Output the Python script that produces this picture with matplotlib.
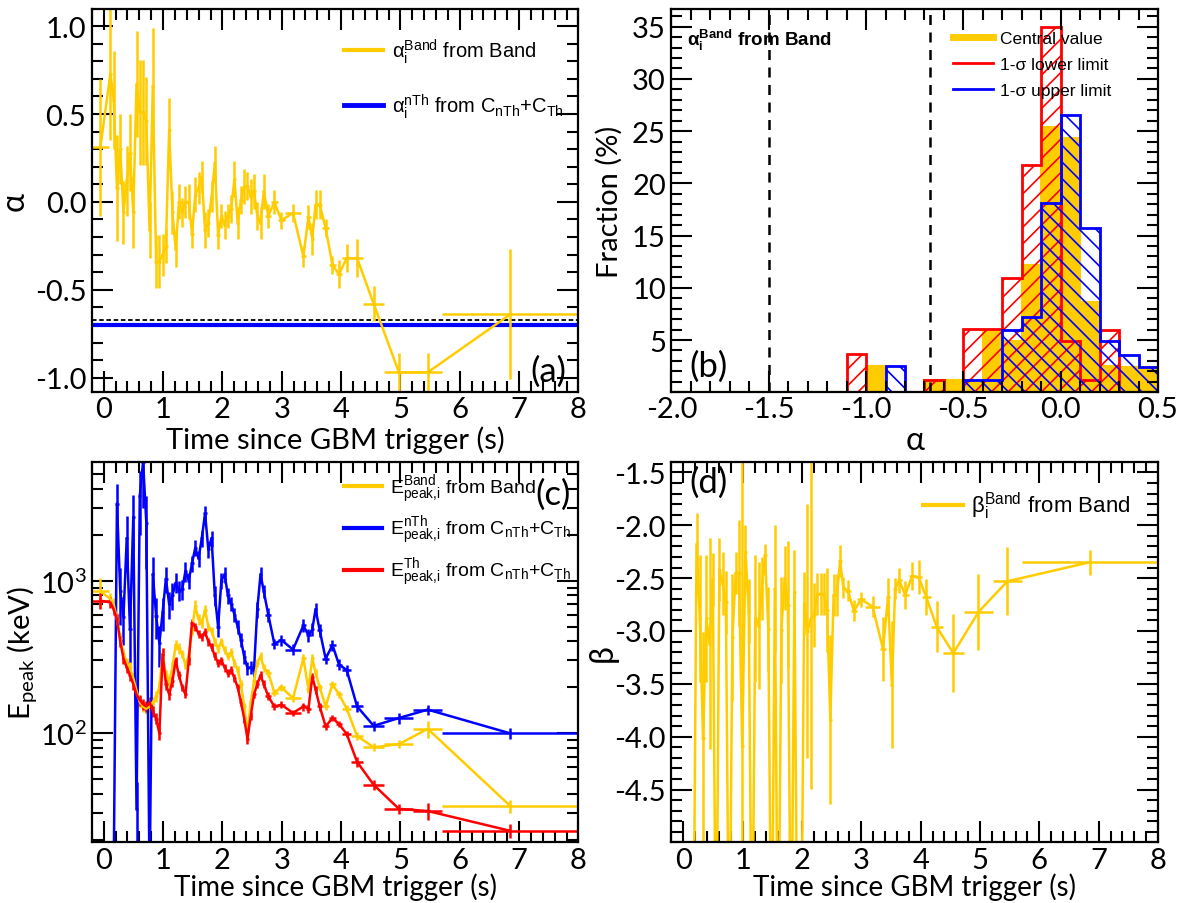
import numpy as np
import matplotlib
matplotlib.use("Agg")
import matplotlib.pyplot as plt
from matplotlib.ticker import MultipleLocator, FixedLocator, NullFormatter, FormatStrFormatter

plt.rcParams['font.family'] = ['Lato', 'DejaVu Sans']
plt.rcParams['axes.unicode_minus'] = False
plt.rcParams['hatch.linewidth'] = 1.2

NARROW = ['Liberation Sans', 'DejaVu Sans']
ORANGE = '#ffcc00'
nan = np.nan

# time bins (s)
t_edges = [-0.2, 0.085, 0.14, 0.195, 0.25, 0.305, 0.36, 0.415, 0.47, 0.525, 0.58,
           0.635, 0.69, 0.745, 0.80, 0.855, 0.91, 0.965, 1.02, 1.075, 1.13,
           1.185, 1.24, 1.295, 1.35, 1.405, 1.46, 1.515, 1.57, 1.625, 1.68,
           1.735, 1.79, 1.845, 1.90, 1.955, 2.01, 2.065, 2.12, 2.175, 2.23,
           2.285, 2.34, 2.395, 2.45, 2.505, 2.56, 2.615, 2.67, 2.725,
           2.82, 2.93, 3.06, 3.32, 3.41, 3.49, 3.54, 3.60, 3.68, 3.80,
           3.91, 4.02, 4.17, 4.37, 4.73, 5.22, 5.70, 8.0]

# low-energy index from Band fits
alpha_band = [0.31,
              0.73, 0.58, 0.08, 0.30, -0.06, 0.12, 0.28, -0.06, 0.67, 0.51,
              0.51, 0.46, -0.16, 0.66, -0.34, -0.34, -0.30, -0.25, 0.41, -0.06,
              -0.27, 0.00, -0.06, 0.00, 0.00, -0.18, 0.04, 0.08, 0.14, -0.16,
              -0.12, 0.03, 0.22, -0.19, -0.08, -0.13, -0.08, -0.04, 0.13, -0.12,
              0.01, 0.09, 0.09, 0.03, 0.06, -0.08, -0.12, 0.06,
              -0.08, 0.00, -0.105, -0.063, -0.31, -0.085, -0.21, -0.015, -0.015, -0.15,
              -0.36, -0.41, -0.32, -0.32, -0.58, -0.97, -0.97, -0.64]
alpha_err = [0.39,
             0.38, 0.28, 0.30, 0.20, 0.18, 0.20, 0.22, 0.20, 0.30, 0.30,
             0.30, 0.25, 0.16, 0.33, 0.15, 0.15, 0.12, 0.10, 0.18, 0.12,
             0.10, 0.10, 0.08, 0.09, 0.10, 0.08, 0.10, 0.09, 0.09, 0.10,
             0.08, 0.09, 0.10, 0.08, 0.07, 0.08, 0.07, 0.08, 0.10, 0.09,
             0.08, 0.10, 0.08, 0.10, 0.10, 0.08, 0.09, 0.10,
             0.07, 0.07, 0.05, 0.05, 0.06, 0.07, 0.09, 0.08, 0.08, 0.05,
             0.05, 0.08, 0.08, 0.11, 0.10, 0.11, 0.11, 0.37]
alpha_nth = -0.70
line_of_death = -0.67

# peak energies (keV) and fractional errors
epeak_band = [850,
              760, 700, 560, 420, 330, 290, 270, 230, 190, 160,
              150, 145, 150, 160, 175, 200, 330, 240, 220, 270,
              380, 360, 330, 280, 320, 480, 680, 560, 530, 640,
              500, 470, 400, 360, 400, 350, 320, 340, 290, 260,
              210, 150, 100, 160, 220, 290, 320, 270,
              250, 185, 200, 170, 310, 195, 310, 250, 200, 150,
              210, 180, 145, 96, 81, 85, 107, 33.5]
epeak_band_ferr = [0.22,
                   0.10, 0.10, 0.10, 0.08, 0.08, 0.08, 0.08, 0.08, 0.08, 0.08,
                   0.08, 0.08, 0.08, 0.08, 0.08, 0.10, 0.10, 0.08, 0.08, 0.08,
                   0.08, 0.08, 0.06, 0.06, 0.06, 0.08, 0.10, 0.08, 0.08, 0.08,
                   0.06, 0.06, 0.06, 0.06, 0.06, 0.06, 0.06, 0.06, 0.06, 0.06,
                   0.06, 0.06, 0.08, 0.06, 0.06, 0.06, 0.06, 0.06,
                   0.06, 0.05, 0.05, 0.05, 0.06, 0.06, 0.06, 0.06, 0.06, 0.05,
                   0.05, 0.05, 0.05, 0.06, 0.06, 0.06, 0.13, 0.10]
epeak_nth = [5,
             8, 12, 3200, 860, 580, 1900, 480, 2600, 32, 3600,
             6000, 2400, 10, 1100, 590, 390, 620, 1030, 700, 800,
             970, 860, 880, 1160, 1000, 1300, 1640, 1400, 1900, 2760,
             1600, 1900, 800, 500, 1000, 1100, 800, 707, 600, 500,
             410, 318, 268, 270, 260, 650, 1100, 850,
             600, 386, 408, 354, 509, 438, 480, 650, 473, 308,
             379, 282, 260, 150, 112, 126, 143, 100]
epeak_nth_ferr = [0.5,
                  0.5, 0.5, 0.35, 0.4, 0.35, 0.4, 0.4, 0.4, 0.5, 0.45,
                  0.5, 0.5, 0.5, 0.3, 0.3, 0.3, 0.25, 0.2, 0.2, 0.2,
                  0.15, 0.15, 0.15, 0.15, 0.12, 0.12, 0.12, 0.12, 0.12, 0.12,
                  0.12, 0.12, 0.15, 0.15, 0.12, 0.12, 0.12, 0.1, 0.1, 0.1,
                  0.1, 0.1, 0.1, 0.1, 0.1, 0.12, 0.12, 0.1,
                  0.1, 0.08, 0.08, 0.08, 0.1, 0.1, 0.1, 0.1, 0.1, 0.08,
                  0.08, 0.08, 0.08, 0.08, 0.08, 0.08, 0.08, 0.08]
epeak_th = [740,
            720, 650, 560, 400, 310, 270, 240, 210, 180, 165,
            155, 150, 160, 140, 125, 100, 330, 210, 180, 220,
            300, 240, 200, 180, 300, 530, 500, 450, 430, 460,
            400, 370, 320, 290, 300, 270, 250, 260, 230, 200,
            160, 125, 92, 130, 180, 210, 240, 210,
            175, 150, 154, 136, 150, 145, 235, 194, 150, 111,
            126, 115, 99, 65, 46, 32, 31, 23]
epeak_th_ferr = [0.12,
                 0.08, 0.08, 0.08, 0.08, 0.08, 0.08, 0.08, 0.08, 0.08, 0.08,
                 0.08, 0.08, 0.08, 0.08, 0.08, 0.1, 0.1, 0.08, 0.08, 0.08,
                 0.06, 0.06, 0.06, 0.06, 0.06, 0.06, 0.06, 0.06, 0.06, 0.06,
                 0.06, 0.06, 0.06, 0.06, 0.06, 0.06, 0.06, 0.06, 0.06, 0.06,
                 0.06, 0.06, 0.08, 0.06, 0.06, 0.06, 0.06, 0.06,
                 0.06, 0.05, 0.05, 0.05, 0.06, 0.06, 0.06, 0.06, 0.06, 0.05,
                 0.05, 0.05, 0.05, 0.07, 0.08, 0.08, 0.13, 0.1]

# high-energy index from Band fits (values below -5 fall off the axis)
beta_band = [nan,
             nan, -6.5, -2.18, -2.88, -4.01, -2.88, -3.12, -2.51, -6.5, -2.42,
             -2.55, -2.73, -6.5, -3.06, -2.45, -2.45, -4.09, -2.25, -2.81, -6.5,
             -2.88, -2.95, -2.60, -2.28, -2.98, -6.5, -2.60, -6.5, -2.99, -2.50,
             -2.75, -6.5, -2.63, -6.5, -6.5, -2.74, -3.00, -2.89, -2.85, -2.65,
             -2.65, -2.65, -2.80, -3.84, -2.66, -2.66, -2.34, -2.59,
             -2.62, -2.81, -2.70, -2.77, -3.17, -2.68, -3.51, -2.60, -2.52, -2.66,
             -2.48, -2.49, -2.68, -2.96, -3.21, -2.82, -2.53, -2.35]
beta_err = [nan,
            nan, 0, 0.3, 0.6, 1.0, 0.6, 1.0, 0.25, 0, 0.3,
            0.3, 0.3, 0, 0.6, 0.2, 0.5, 2.8, 0.25, 0.3, 0,
            0.6, 0.6, 0.3, 0.1, 0.4, 0, 0.6, 0, 0.5, 0.3,
            0.6, 0, 0.4, 0, 0, 0.3, 1.2, 1.6, 0.3, 0.2,
            0.2, 0.2, 0.4, 0.8, 0.2, 0.2, 0.15, 0.1,
            0.1, 0.1, 0.07, 0.1, 0.3, 0.18, 0.6, 0.1, 0.12, 0.13,
            0.13, 0.16, 0.17, 0.24, 0.37, 0.36, 0.32, 0.12]

# alpha distributions (fraction in %)
hist_edges = [-2.0, -1.9, -1.8, -1.7, -1.6, -1.5, -1.4, -1.3, -1.2, -1.1, -1.0,
              -0.9, -0.8, -0.7, -0.6, -0.5, -0.4, -0.3, -0.2, -0.1, 0.0,
              0.1, 0.2, 0.3, 0.4, 0.5]
frac_central = [0, 0, 0, 0, 0, 0, 0, 0, 0, 0, 2.5, 0, 0, 1.2, 1.2, 1.2, 6.0,
                4.9, 12.2, 25.4, 24.3, 8.6, 2.5, 2.4, 2.4]
frac_lower = [0, 0, 0, 0, 0, 0, 0, 0, 0, 3.7, 0, 0, 0, 1.2, 0, 6.1, 6.1,
              10.9, 21.8, 35.0, 4.9, 1.2, 6.0, 0, 0]
frac_upper = [0, 0, 0, 0, 0, 0, 0, 0, 0, 0, 0, 2.5, 0, 0, 0, 1.2, 1.2,
              6.0, 7.2, 18.1, 26.5, 15.7, 4.9, 3.6, 2.4]
alpha_limits = [-1.5, -0.67]

t_edges = np.array(t_edges)
t_mid = 0.5 * (t_edges[:-1] + t_edges[1:])
t_half = 0.5 * np.diff(t_edges)


def style_axes(ax):
    for s in ax.spines.values():
        s.set_linewidth(1.6)
    ax.tick_params(which='both', direction='in', top=True, right=True,
                   width=1.5, labelsize=21)
    ax.tick_params(axis='x', which='both', pad=3)
    ax.tick_params(axis='y', which='both', pad=4)
    ax.tick_params(which='major', length=15)
    ax.tick_params(which='minor', length=8)


fig = plt.figure(figsize=(11.78, 9.04), dpi=100)
ax_a = fig.add_axes([0.078, 0.565, 0.413, 0.424])
ax_b = fig.add_axes([0.570, 0.565, 0.413, 0.424])
ax_c = fig.add_axes([0.078, 0.067, 0.413, 0.421])
ax_d = fig.add_axes([0.570, 0.067, 0.413, 0.421])

leg_font = {'family': NARROW, 'size': 14.5}
ekw = dict(fmt='-', lw=1.8, elinewidth=1.8, capsize=0)
lab_cs = r'$\mathregular{C_{nTh}}$+$\mathregular{C_{Th}}$'

# (a) alpha vs time
ax_a.axhline(alpha_nth, color='blue', lw=3)
ax_a.axhline(line_of_death, color='k', lw=1.3, ls=(0, (2.5, 1.5)))
ax_a.errorbar(t_mid, alpha_band, xerr=t_half, yerr=alpha_err, color=ORANGE, **ekw)
ax_a.plot([], [], color=ORANGE, lw=3, label=r'$\mathregular{α_i^{Band}}$ from Band')
ax_a.plot([], [], color='blue', lw=3.5, label=r'$\mathregular{α_i^{nTh}}$ from ' + lab_cs)
ax_a.set_xlim(-0.2, 8)
ax_a.set_ylim(-1.083, 1.098)
ax_a.set_yticks([-1.0, -0.5, 0.0, 0.5, 1.0])
ax_a.yaxis.set_major_formatter(FormatStrFormatter('%.1f'))
ax_a.yaxis.set_minor_locator(MultipleLocator(0.1))
ax_a.xaxis.set_major_locator(MultipleLocator(1))
ax_a.xaxis.set_minor_locator(MultipleLocator(0.2))
style_axes(ax_a)
ax_a.set_xlabel('Time since GBM trigger (s)', fontsize=21)
ax_a.xaxis.set_label_coords(0.5, -0.086)
ax_a.set_ylabel('α', fontsize=23)
ax_a.yaxis.set_label_coords(-0.128, 0.5)
ax_a.legend(loc='center left', bbox_to_anchor=(0.519, 0.819),
            frameon=False, prop=leg_font, handlelength=1.9, handletextpad=0.45,
            labelspacing=1.3, borderpad=0, borderaxespad=0)
ax_a.text(0.938, 0.055, '(a)', transform=ax_a.transAxes, fontsize=25,
          ha='center', va='center')

# (b) histograms of alpha
h_left = np.array(hist_edges[:-1])
ax_b.bar(h_left, frac_central, width=0.1, align='edge', color=ORANGE, linewidth=0)
ax_b.stairs(frac_central, hist_edges, color=ORANGE, lw=1.5)
ax_b.bar(h_left, frac_lower, width=0.1, align='edge', fill=False, hatch='//',
         edgecolor='red', linewidth=0)
ax_b.stairs(frac_lower, hist_edges, color='red', lw=2)
ax_b.bar(h_left, frac_upper, width=0.1, align='edge', fill=False, hatch='\\\\',
         edgecolor='blue', linewidth=0)
ax_b.stairs(frac_upper, hist_edges, color='blue', lw=2)
for xv in alpha_limits:
    ax_b.axvline(xv, color='k', lw=1.8, ls=(0, (4, 3)))
ax_b.plot([], [], color=ORANGE, lw=5, label='Central value')
ax_b.plot([], [], color='red', lw=2, label='1-σ lower limit')
ax_b.plot([], [], color='blue', lw=2, label='1-σ upper limit')
ax_b.set_xlim(-2.0, 0.5)
ax_b.set_ylim(0, 36.7)
ax_b.xaxis.set_major_locator(MultipleLocator(0.5))
ax_b.xaxis.set_major_formatter(FormatStrFormatter('%.1f'))
ax_b.xaxis.set_minor_locator(MultipleLocator(0.1))
ax_b.set_yticks([5, 10, 15, 20, 25, 30, 35])
ax_b.yaxis.set_minor_locator(MultipleLocator(1))
style_axes(ax_b)
ax_b.set_xlabel('α', fontsize=23)
ax_b.xaxis.set_label_coords(0.5, -0.086)
ax_b.set_ylabel('Fraction (%)', fontsize=21)
ax_b.yaxis.set_label_coords(-0.1, 0.5)
ax_b.legend(loc='center left', bbox_to_anchor=(0.579, 0.856), frameon=False,
            prop={'family': NARROW, 'size': 12.5}, handlelength=2.3,
            handletextpad=0.4, labelspacing=0.62, borderpad=0, borderaxespad=0)
ax_b.text(0.031, 0.92, r'$\mathregular{α_i^{Band}}$ from Band', transform=ax_b.transAxes,
          family=NARROW, fontsize=13.5, fontweight='bold', va='center')
ax_b.text(0.077, 0.068, '(b)', transform=ax_b.transAxes, fontsize=25,
          ha='center', va='center')

# (c) peak energy vs time
series_c = [
    (epeak_nth, epeak_nth_ferr, 'blue'),
    (epeak_band, epeak_band_ferr, ORANGE),
    (epeak_th, epeak_th_ferr, 'red'),
]
for vals, ferr, col in series_c:
    v = np.array(vals, float)
    e = v * np.array(ferr)
    ax_c.errorbar(t_mid, v, xerr=t_half, yerr=[e, e], color=col, **ekw)
ax_c.plot([], [], color=ORANGE, lw=3, label=r'$\mathregular{E_{peak{,}i}^{Band}}$ from Band')
ax_c.plot([], [], color='blue', lw=3, label=r'$\mathregular{E_{peak{,}i}^{nTh}}$ from ' + lab_cs)
ax_c.plot([], [], color='red', lw=3, label=r'$\mathregular{E_{peak{,}i}^{Th}}$ from ' + lab_cs)
ax_c.set_yscale('log')
ax_c.set_xlim(-0.2, 8)
ax_c.set_ylim(19.3, 6000)
ax_c.yaxis.set_major_locator(FixedLocator([100, 1000]))
ax_c.set_yticklabels([r'$\mathregular{10^{2}}$', r'$\mathregular{10^{3}}$'])
ax_c.yaxis.set_minor_locator(FixedLocator([20, 30, 40, 50, 60, 70, 80, 90,
                                           200, 300, 400, 500, 600, 700, 800, 900,
                                           2000, 3000, 4000, 5000]))
ax_c.yaxis.set_minor_formatter(NullFormatter())
ax_c.xaxis.set_major_locator(MultipleLocator(1))
ax_c.xaxis.set_minor_locator(MultipleLocator(0.2))
style_axes(ax_c)
ax_c.set_xlabel('Time since GBM trigger (s)', fontsize=20)
ax_c.xaxis.set_label_coords(0.5, -0.079)
ax_c.set_ylabel(r'$\mathregular{E_{peak}}$ (keV)', fontsize=21)
ax_c.yaxis.set_label_coords(-0.108, 0.5)
ax_c.legend(loc='center left', bbox_to_anchor=(0.519, 0.82), frameon=False,
            prop={'family': NARROW, 'size': 14}, handlelength=1.95,
            handletextpad=0.4, labelspacing=0.5, borderpad=0, borderaxespad=0)
ax_c.text(0.947, 0.917, '(c)', transform=ax_c.transAxes, fontsize=25,
          ha='center', va='center')

# (d) beta vs time
ax_d.errorbar(t_mid, beta_band, xerr=t_half, yerr=beta_err, color=ORANGE, **ekw)
ax_d.plot([], [], color=ORANGE, lw=3, label=r'$\mathregular{β_i^{Band}}$ from Band')
ax_d.set_xlim(-0.2, 8)
ax_d.set_ylim(-5.0, -1.4)
ax_d.set_yticks([-4.5, -4.0, -3.5, -3.0, -2.5, -2.0, -1.5])
ax_d.yaxis.set_major_formatter(FormatStrFormatter('%.1f'))
ax_d.yaxis.set_minor_locator(MultipleLocator(0.1))
ax_d.xaxis.set_major_locator(MultipleLocator(1))
ax_d.xaxis.set_minor_locator(MultipleLocator(0.2))
style_axes(ax_d)
ax_d.set_xlabel('Time since GBM trigger (s)', fontsize=20)
ax_d.xaxis.set_label_coords(0.5, -0.079)
ax_d.set_ylabel('β', fontsize=23)
ax_d.yaxis.set_label_coords(-0.111, 0.5)
ax_d.legend(loc='center left', bbox_to_anchor=(0.517, 0.885), frameon=False,
            prop={'family': NARROW, 'size': 16}, handlelength=1.8, handletextpad=0.35,
            borderpad=0, borderaxespad=0)
ax_d.text(0.077, 0.948, '(d)', transform=ax_d.transAxes, fontsize=25,
          ha='center', va='center')

fig.savefig('out.png', dpi=100)
